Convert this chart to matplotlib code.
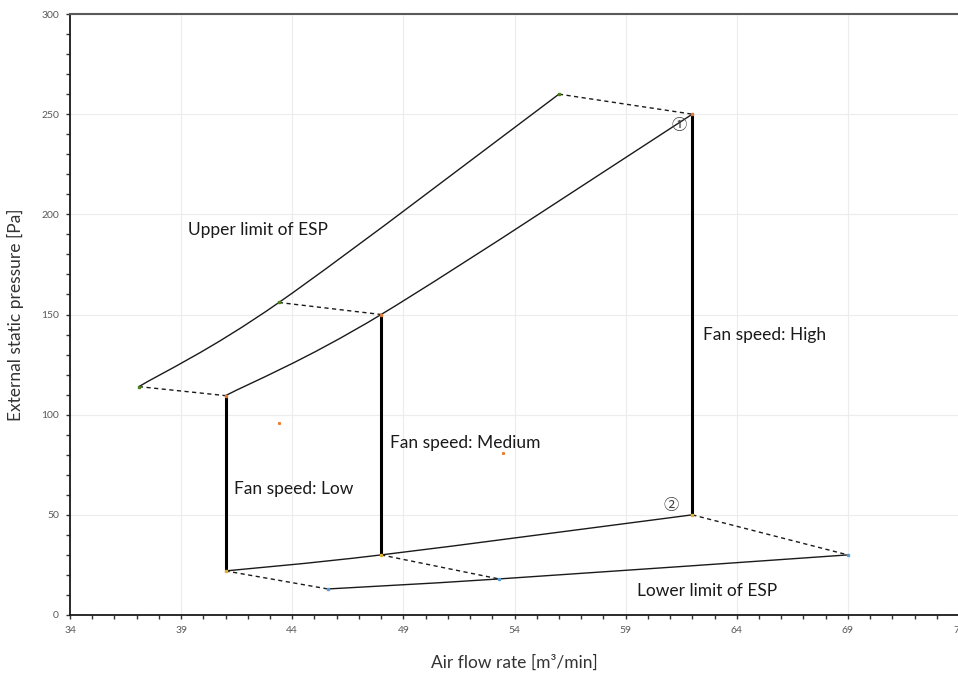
import numpy as np
import matplotlib
matplotlib.use('Agg')
import matplotlib.pyplot as plt
from matplotlib.path import Path
from matplotlib.patches import PathPatch
from matplotlib.ticker import MultipleLocator

plt.rcParams['font.family'] = ['Lato', 'Noto Sans CJK JP', 'DejaVu Sans']

# ---- data ----
upper_x = [37.1, 43.4, 56.0]          # upper limit of ESP
upper_y = [114, 156, 260]
high_x = [41.0, 48.0, 62.0]           # top ends of the fan speed lines
high_y = [109.5, 150, 250]
low_x = [41.0, 48.0, 62.0]            # bottom ends of the fan speed lines
low_y = [22, 30, 50]
lower_x = [45.6, 53.3, 69.0]          # lower limit of ESP
lower_y = [13, 18, 30]
fan_labels = ['Fan speed: Low', 'Fan speed: Medium', 'Fan speed: High']
stray_x = [43.4, 53.5]                # tiny orange points
stray_y = [96, 81]


def smooth_path(xs, ys):
    # excel-like smoothed scatter line drawn as a bezier path
    p = np.column_stack([xs, ys]).astype(float)
    verts = [p[0]]
    codes = [Path.MOVETO]
    n = len(p)
    for i in range(n - 1):
        p0 = p[i - 1] if i > 0 else p[i]
        p3 = p[i + 2] if i + 2 < n else p[i + 1]
        c1 = p[i] + (p[i + 1] - p0) / 6
        c2 = p[i + 1] - (p3 - p[i]) / 6
        verts += [c1, c2, p[i + 1]]
        codes += [Path.CURVE4] * 3
    return Path(verts, codes)


fig = plt.figure(figsize=(9.58, 6.77), dpi=100)
ax = fig.add_axes([70 / 958, 62 / 677, 889 / 958, 601 / 677])

for xs, ys in [(upper_x, upper_y), (high_x, high_y), (low_x, low_y), (lower_x, lower_y)]:
    ax.add_patch(PathPatch(smooth_path(xs, ys), facecolor='none',
                           edgecolor='#1a1a1a', lw=1.0, zorder=3))

# dashed connectors
for i in range(3):
    ax.plot([upper_x[i], high_x[i]], [upper_y[i], high_y[i]], color='#1a1a1a',
            lw=1.0, ls=(0, (3, 2.5)), zorder=3)
    ax.plot([low_x[i], lower_x[i]], [low_y[i], lower_y[i]], color='#1a1a1a',
            lw=1.0, ls=(0, (3, 2.5)), zorder=3)
    # fan speed verticals
    ax.plot([high_x[i], low_x[i]], [high_y[i], low_y[i]], color='black',
            lw=2.2, zorder=4, solid_capstyle='butt')

ax.plot(upper_x, upper_y, 's', ms=1.5, color='#4d7f1e', zorder=5)
ax.plot(high_x, high_y, 's', ms=1.5, color='#e07b39', zorder=5)
ax.plot(low_x, low_y, 's', ms=1.5, color='#e0b030', zorder=5)
ax.plot(lower_x, lower_y, 's', ms=1.5, color='#5b9bd5', zorder=5)
ax.plot(stray_x, stray_y, 's', ms=1.2, color='#ed7d31', zorder=5)

# labels
txt = dict(fontsize=12.5, color='#1a1a1a', zorder=6)
ax.text(39.3, 192, 'Upper limit of ESP', va='center', **txt)
ax.text(low_x[0] + 0.4, 63, fan_labels[0], va='center', **txt)
ax.text(low_x[1] + 0.4, 86, fan_labels[1], va='center', **txt)
ax.text(low_x[2] + 0.5, 140, fan_labels[2], va='center', **txt)
ax.text(59.5, 12, 'Lower limit of ESP', va='center', **txt)
circ = dict(fontsize=11, color='#404040', va='center', ha='center',
            family=['Noto Sans CJK JP', 'DejaVu Sans'])
ax.text(61.4, 244.5, '①', **circ)
ax.text(61.05, 54.5, '②', **circ)

ax.set_xlim(34, 74)
ax.set_ylim(0, 300)
ax.xaxis.set_major_locator(MultipleLocator(5, offset=4))
ax.xaxis.set_minor_locator(MultipleLocator(1))
ax.yaxis.set_major_locator(MultipleLocator(50))
ax.yaxis.set_minor_locator(MultipleLocator(10))
ax.grid(True, which='major', color='#ececec', lw=0.8, zorder=0)
ax.tick_params(which='major', length=3, width=1, color='#333333',
               labelsize=7.5, labelcolor='#595959', pad=5)
ax.tick_params(which='minor', length=3, width=1, color='#333333')

for side in ['left', 'bottom']:
    ax.spines[side].set_color('#1a1a1a')
    ax.spines[side].set_linewidth(1.3)
ax.spines['top'].set_color('#595959')
ax.spines['top'].set_linewidth(1.5)
ax.spines['right'].set_visible(False)

ax.set_xlabel('Air flow rate [m³/min]', fontsize=12.5, color='#333333', labelpad=14)
ax.set_ylabel('External static pressure [Pa]', fontsize=12.5, color='#333333', labelpad=12)

fig.savefig('out.png', dpi=100)
